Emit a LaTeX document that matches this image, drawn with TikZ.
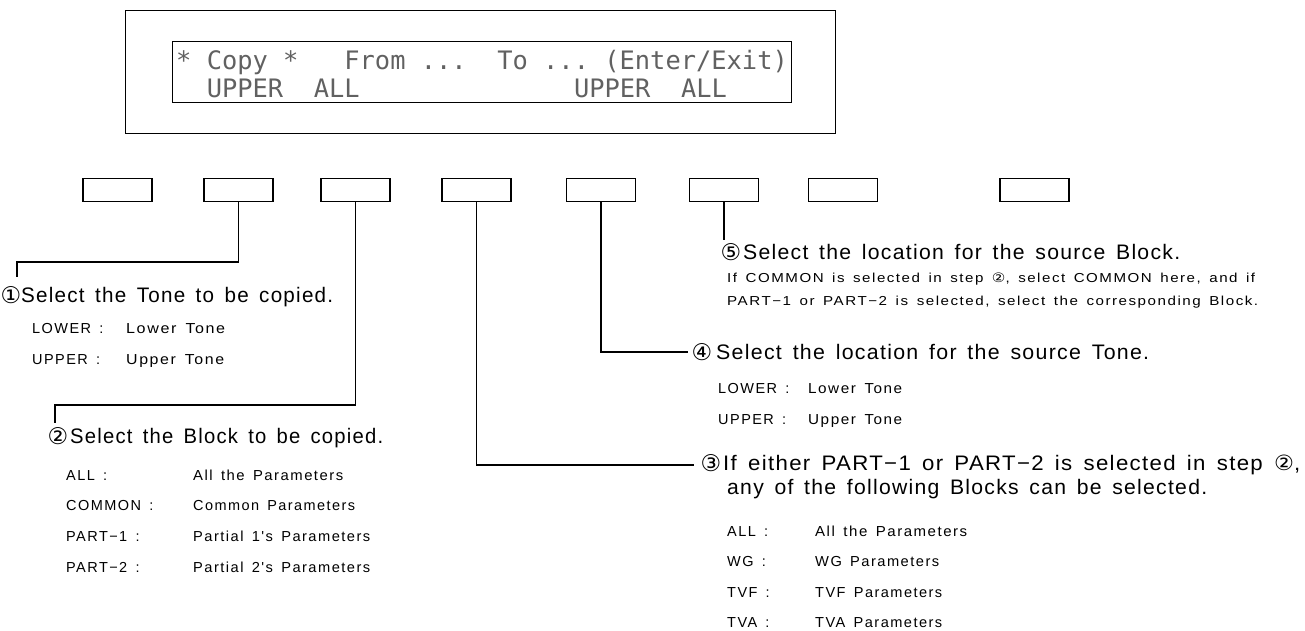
\documentclass[tikz,border=0pt]{standalone}
\usepackage{fontspec}
\usepackage{graphicx}
\setmainfont{Liberation Sans}
\newfontfamily\labf{Liberation Sans}[LetterSpace=6,WordSpace=1.5]
\newfontfamily\smlf{Liberation Sans}[LetterSpace=10,WordSpace=1.5]
\newfontfamily\circf{DejaVu Sans}
\newfontfamily\lcdf{DejaVu Sans Mono}
\newcommand\fitw[2]{\resizebox{#1pt}{\height}{#2}}
\newcommand\cn[1]{{\circf #1}}
\begin{document}
\begin{tikzpicture}[x=1pt,y=-1pt,
  frame/.style={draw, line width=1.3pt, inner sep=0, anchor=north west},
  key/.style={draw, line width=1.2pt, minimum width=69pt, minimum height=23pt, inner sep=0, anchor=north},
  wire/.style={line width=1.1pt},
  lcdtxt/.style={font=\lcdf\fontsize{25.4}{28}\selectfont, text=black!62, inner sep=0, anchor=base west},
  big/.style={font=\labf\fontsize{21}{24}\selectfont, inner sep=0, anchor=base west},
  small/.style={font=\smlf\fontsize{14.5}{17}\selectfont, inner sep=0, anchor=base west},
  tiny/.style={font=\smlf\fontsize{13}{15}\selectfont, inner sep=0, anchor=base west},
  num/.style={font=\circf\fontsize{23}{25}\selectfont, inner sep=0},
]
\useasboundingbox (0,0) rectangle (1305,630);
% display
\node[frame, minimum width=710pt, minimum height=123pt] (disp) at (125,10) {};
\node[frame, minimum width=619pt, minimum height=61pt, line width=1.1pt] (lcd) at (172,41) {};
\node[lcdtxt] (lcd1) at (176,69) {*~Copy~*~~~From~...~~To~...~(Enter/Exit)};
\node[lcdtxt] (lcd2) at (206.6,97) {UPPER~~ALL};
\node[lcdtxt] (lcd3) at (573.8,97) {UPPER~~ALL};
% buttons
\node[key] (b1) at (117.5,178) {};
\node[key] (b2) at (238.5,178) {};
\node[key] (b3) at (355.5,178) {};
\node[key] (b4) at (476.5,178) {};
\node[key] (b5) at (601,178) {};
\node[key] (b6) at (724,178) {};
\node[key] (b7) at (843,178) {};
\node[key] (b8) at (1034.5,178) {};
% wires
\coordinate (k1) at (17,262); \coordinate (c1) at (17,277);
\coordinate (k2) at (55,405); \coordinate (c2) at (55,423);
\coordinate (c3) at (694,465);
\coordinate (c4) at (688,352);
\coordinate (c5) at (724,240);
\draw[wire] (b2.south) |- (k1) -- (c1);
\draw[wire] (b3.south) |- (k2) -- (c2);
\draw[wire] (b4.south) |- (c3);
\draw[wire] (b5.south) |- (c4);
\draw[wire] (b6.south) -- (c5);
% step 1
\node[num] (n1) at (11,295) {①};
\node[big] (t1) at (21,302.5) {\fitw{312}{Select the Tone to be copied.}};
\node[small] (k1a) at (32,333) {LOWER :};
\node[small] (v1a) at (126,333) {\fitw{99}{Lower Tone}};
\node[small] (k1b) at (32,364) {UPPER :};
\node[small] (v1b) at (126,364) {\fitw{98}{Upper Tone}};
% step 2
\node[num] (n2) at (58,436) {②};
\node[big] (t2) at (70,443.5) {\fitw{313}{Select the Block to be copied.}};
\node[small] (k2a) at (66,480) {ALL :};
\node[small] (v2a) at (193,480) {\fitw{150}{All the Parameters}};
\node[small] (k2b) at (66,510) {COMMON :};
\node[small] (v2b) at (193,510) {\fitw{162}{Common Parameters}};
\node[small] (k2c) at (66,541) {PART−1 :};
\node[small] (v2c) at (193,541) {\fitw{177}{Partial 1's Parameters}};
\node[small] (k2d) at (66,572) {PART−2 :};
\node[small] (v2d) at (193,572) {\fitw{177}{Partial 2's Parameters}};
% step 5
\node[num] (n5) at (731,252) {⑤};
\node[big] (t5) at (743,259.5) {\fitw{437}{Select the location for the source Block.}};
\node[tiny] (t5a) at (727,282) {\fitw{528}{If COMMON is selected in step \cn{②}, select COMMON here, and if}};
\node[tiny] (t5b) at (727,305) {\fitw{531}{PART−1 or PART−2 is selected, select the corresponding Block.}};
% step 4
\node[num] (n4) at (702,352) {④};
\node[big] (t4) at (716,359.5) {\fitw{433}{Select the location for the source Tone.}};
\node[small] (k4a) at (718,393) {LOWER :};
\node[small] (v4a) at (808,393) {\fitw{94}{Lower Tone}};
\node[small] (k4b) at (718,424) {UPPER :};
\node[small] (v4b) at (808,424) {\fitw{94}{Upper Tone}};
% step 3
\node[num] (n3) at (711,463) {③};
\node[big] (t3a) at (723,470) {\fitw{577}{If either PART−1 or PART−2 is selected in step \cn{②},}};
\node[big] (t3b) at (727,494.5) {\fitw{480}{any of the following Blocks can be selected.}};
\node[small] (k3a) at (727,536) {ALL :};
\node[small] (v3a) at (815,536) {\fitw{152}{All the Parameters}};
\node[small] (k3b) at (727,566) {WG :};
\node[small] (v3b) at (815,566) {\fitw{124}{WG Parameters}};
\node[small] (k3c) at (727,597) {TVF :};
\node[small] (v3c) at (815,597) {\fitw{127}{TVF Parameters}};
\node[small] (k3d) at (727,627) {TVA :};
\node[small] (v3d) at (815,627) {\fitw{127}{TVA Parameters}};
\end{tikzpicture}
\end{document}
